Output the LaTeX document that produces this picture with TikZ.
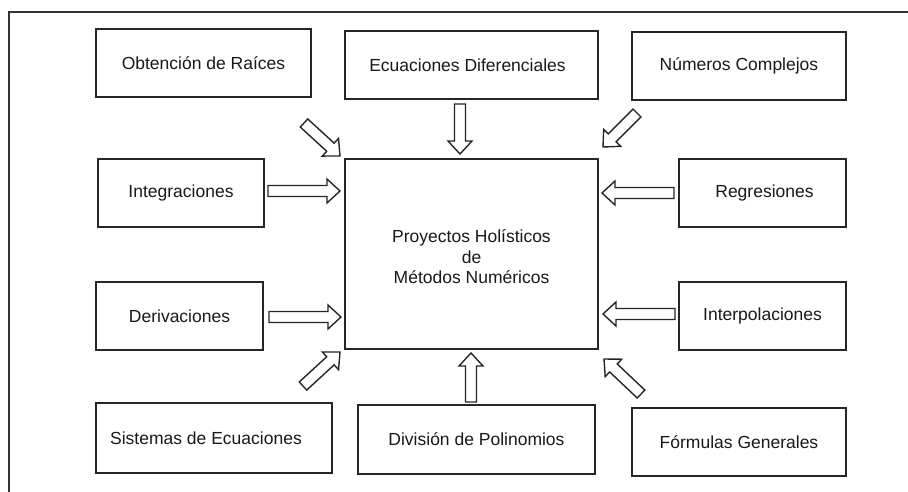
\documentclass[tikz,border=0pt]{standalone}
\usepackage{fontspec}
\setmainfont{Liberation Sans}
\usetikzlibrary{calc}
\newcommand\bw{5.5pt}
\newcommand\bh{12pt}
\newcommand\bl{13pt}
\newcommand\blockarrow[2]{%
  \draw[barrow] ($(#1)!\bw!90:(#2)$) -- ($(#2)!\bl!(#1)!\bw!-90:(#1)$) -- ($(#2)!\bl!(#1)!\bh!-90:(#1)$) -- (#2) -- ($(#2)!\bl!(#1)!\bh!90:(#1)$) -- ($(#2)!\bl!(#1)!\bw!90:(#1)$) -- ($(#1)!\bw!-90:(#2)$) -- cycle;}
\tikzset{
  box/.style={draw=black!85, line width=1.5pt, inner sep=0pt, align=center,
    font=\fontsize{17.5}{20.5}\selectfont, text=black!90},
  barrow/.style={draw=black!85, line width=1.4pt, line join=miter, fill=white},
  frame/.style={draw=black!80, line width=1.5pt}
}
\begin{document}
\begin{tikzpicture}[x=1pt,y=-1pt]
\useasboundingbox (0,0) rectangle (908,492);
\fill[white] (0,0) rectangle (908,492);
\begin{scope}
\clip (0,0) rectangle (908,492);
\draw[frame] (9,12) rectangle (930,520);
\end{scope}
% boxes
\node[box, minimum width=215pt, minimum height=68pt] (obt) at (203.5,63) {Obtención de Raíces};
\node[box, minimum width=253pt, minimum height=68pt] (ecu) at (471.5,65) {Ecuaciones Diferenciales\hspace*{8pt}};
\node[box, minimum width=214pt, minimum height=68pt] (num) at (739,66) {Números Complejos};
\node[box, minimum width=166pt, minimum height=68pt] (int) at (181,193) {Integraciones};
\node[box, minimum width=253pt, minimum height=190pt] (cen) at (471.5,254) {\\[-2pt]Proyectos Holísticos\\de\\Métodos Numéricos};
\node[box, minimum width=167pt, minimum height=68pt] (reg) at (762.5,193) {Regresiones\hspace*{-4pt}};
\node[box, minimum width=167pt, minimum height=68pt] (der) at (179.5,316) {Derivaciones};
\node[box, minimum width=167pt, minimum height=68pt] (itp) at (762.5,316) {Interpolaciones};
\node[box, minimum width=236pt, minimum height=70pt] (sis) at (214,438) {Sistemas de Ecuaciones\hspace*{16pt}};
\node[box, minimum width=237pt, minimum height=69pt] (div) at (476.5,439.5) {División de Polinomios};
\node[box, minimum width=214pt, minimum height=68pt] (for) at (739,442) {Fórmulas Generales};
% arrow end points
\coordinate (a1s) at (304,123); \coordinate (a1t) at (340,156);
\coordinate (a2s) at (460,104); \coordinate (a2t) at (460,154);
\coordinate (a3s) at (637,113); \coordinate (a3t) at (603,147);
\coordinate (a4s) at (268,191); \coordinate (a4t) at (340,191);
\coordinate (a5s) at (674,193); \coordinate (a5t) at (602,193);
\coordinate (a6s) at (269,317); \coordinate (a6t) at (341,317);
\coordinate (a7s) at (675,314); \coordinate (a7t) at (603,314);
\coordinate (a8s) at (303,386); \coordinate (a8t) at (340,352);
\coordinate (a9s) at (471,402); \coordinate (a9t) at (471,353);
\coordinate (a10s) at (641,394); \coordinate (a10t) at (604,359);
\blockarrow{a1s}{a1t}
\blockarrow{a2s}{a2t}
\blockarrow{a3s}{a3t}
\blockarrow{a4s}{a4t}
\blockarrow{a5s}{a5t}
\blockarrow{a6s}{a6t}
\blockarrow{a7s}{a7t}
\blockarrow{a8s}{a8t}
\blockarrow{a9s}{a9t}
\blockarrow{a10s}{a10t}
\end{tikzpicture}
\end{document}
